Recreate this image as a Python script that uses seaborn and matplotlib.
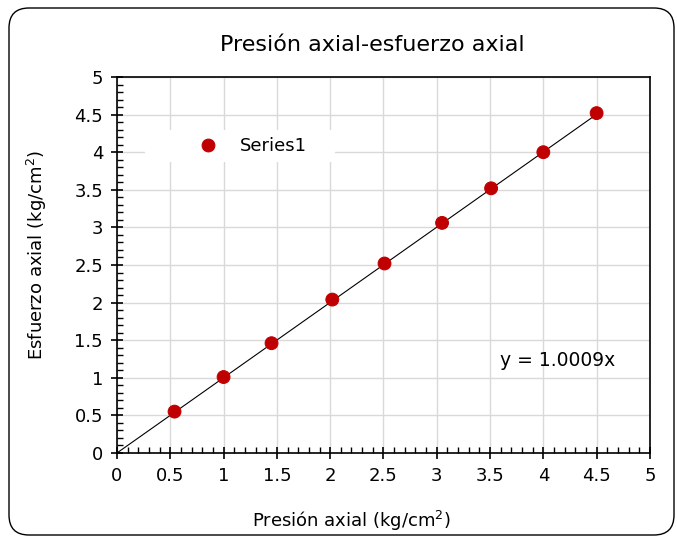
import pandas as pd
import seaborn as sns
import matplotlib.pyplot as plt
from matplotlib.patches import FancyBboxPatch, Rectangle
from matplotlib.ticker import MultipleLocator, FuncFormatter

# Data
presion = [0.54, 1.0, 1.45, 2.02, 2.51, 3.05, 3.51, 4.0, 4.5]
esfuerzo = [0.55, 1.01, 1.46, 2.04, 2.52, 3.06, 3.52, 4.0, 4.52]
slope = 1.0009

df = pd.DataFrame({"Presión axial": presion, "Esfuerzo axial": esfuerzo, "serie": "Series1"})
trend = pd.DataFrame({"x": [0, max(presion)]})
trend["y"] = slope * trend["x"]

sns.set_style("white")
plt.rcParams['font.family'] = ['DejaVu Sans']
plt.rcParams['text.color'] = 'black'
plt.rcParams['axes.labelcolor'] = 'black'
plt.rcParams['xtick.color'] = 'black'
plt.rcParams['ytick.color'] = 'black'

fig = plt.figure(figsize=(6.77, 5.36), dpi=100)
ax = fig.add_axes([0.1728, 0.1549, 0.7872, 0.7014])

# rounded chart border
fig.patches.append(FancyBboxPatch((9, 1), 665, 527, boxstyle="round,pad=0,rounding_size=20",
                                  transform=None, fill=False, edgecolor="black", linewidth=1.0))

sns.lineplot(data=trend, x="x", y="y", ax=ax, color="black", linewidth=0.8, legend=False, zorder=2)
sns.scatterplot(data=df, x="Presión axial", y="Esfuerzo axial", hue="serie", palette=["#C00000"],
                s=85, edgecolor="#C00000", ax=ax, zorder=3)

ax.set_xlim(0, 5)
ax.set_ylim(0, 5)
fmt = FuncFormatter(lambda v, p: f"{v:g}")
for axis in (ax.xaxis, ax.yaxis):
    axis.set_major_locator(MultipleLocator(0.5))
    axis.set_minor_locator(MultipleLocator(0.1))
    axis.set_major_formatter(fmt)
ax.grid(True, which="major", color="#d9d9d9", linewidth=1)
ax.set_axisbelow(True)
for sp in ax.spines.values():
    sp.set_color("black")
    sp.set_linewidth(1.2)
ax.tick_params(which="both", bottom=True, left=True, top=False, right=False)
ax.tick_params(which="major", direction="inout", length=8, width=1.2, labelsize=13, pad=6)
ax.tick_params(which="minor", direction="in", length=4, width=1)

ax.set_title("Presión axial-esfuerzo axial", fontsize=16, pad=19, x=0.48)
ax.set_xlabel("Presión axial (kg/cm$^2$)", fontsize=13)
ax.set_ylabel("Esfuerzo axial (kg/cm$^2$)", fontsize=13)
ax.xaxis.set_label_coords(0.439, -0.15)
ax.yaxis.set_label_coords(-0.128, 0.527)

ax.text(0.718, 0.247, "y = 1.0009x", transform=ax.transAxes, fontsize=13.5, va="center")

# white box behind legend, hiding grid
ax.add_patch(Rectangle((0.0525, 0.774), 0.356, 0.085, transform=ax.transAxes,
                       facecolor="white", edgecolor="none", zorder=1.5))
leg = ax.legend(loc="center left", bbox_to_anchor=(0.154, 0.8165), frameon=False, fontsize=13,
                handlelength=1.0, handletextpad=1.28, borderpad=0, borderaxespad=0)

fig.savefig("out.png", dpi=100)
